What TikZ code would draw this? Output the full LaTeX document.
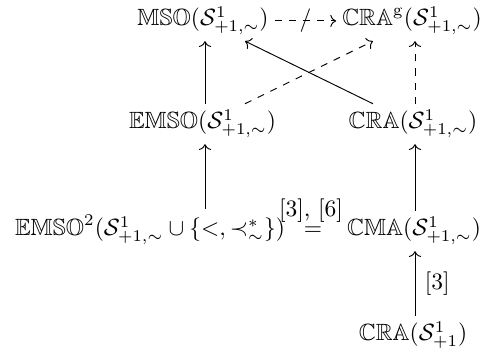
\documentclass[tikz,border=0pt]{standalone}
\usepackage{amssymb}
\usetikzlibrary{cd}
\begin{document}
\begin{tikzpicture}[x=0.4255pt,y=-0.4255pt]
\tikzset{
  lbl/.style={anchor=base, inner sep=2.4pt},
  arr/.style={-{cm to}},
  darr/.style={-{cm to}, dashed},
}
\useasboundingbox (0,0) rectangle (489,351);
\coordinate (colL) at (205,0);
\coordinate (colR) at (415,0);
\coordinate (dA) at (245,0);
\coordinate (dB) at (373,0);
\node[lbl] (mso) at (203,26) {$\mathbb{MSO}(\mathcal{S}^1_{+1,\sim})$};
\node[lbl] (crag) at (412,26) {$\mathbb{CRA}^{\mathrm{g}}(\mathcal{S}^1_{+1,\sim})$};
\node[lbl] (emso) at (202.5,129) {$\mathbb{EMSO}(\mathcal{S}^1_{+1,\sim})$};
\node[lbl] (cra) at (413,129) {$\mathbb{CRA}(\mathcal{S}^1_{+1,\sim})$};
\node[lbl] (emso2) at (150,236) {$\mathbb{EMSO}^2(\mathcal{S}^1_{+1,\sim}\cup\{<,\prec^{*}_{\sim}\})$};
\node[lbl] (cma) at (414,236) {$\mathbb{CMA}(\mathcal{S}^1_{+1,\sim})$};
\node[lbl] (crab) at (413,341) {$\mathbb{CRA}(\mathcal{S}^1_{+1})$};
\node[lbl] (eq) at (313,236) {$=$};
\node[anchor=base, inner sep=0pt] (eqlab) at (311,217) {[3], [6]};
% arrows
\draw[darr] (mso) -- node[inner sep=0pt] {$/$} (crag);
\draw[arr] (emso.north -| colL) -- (mso.south -| colL);
\draw[darr] (cra.north -| colR) -- (crag.south -| colR);
\draw[arr] (cra.north -| dB) -- (mso.south -| dA);
\draw[darr] (emso.north -| dA) -- (crag.south -| dB);
\draw[arr] (emso2.north -| colL) -- (emso.south -| colL);
\draw[arr] (cma.north -| colR) -- (cra.south -| colR);
\draw[arr] (crab.north -| colR) -- node[right, inner sep=4pt] (lab3) {[3]} (cma.south -| colR);
\end{tikzpicture}
\end{document}
